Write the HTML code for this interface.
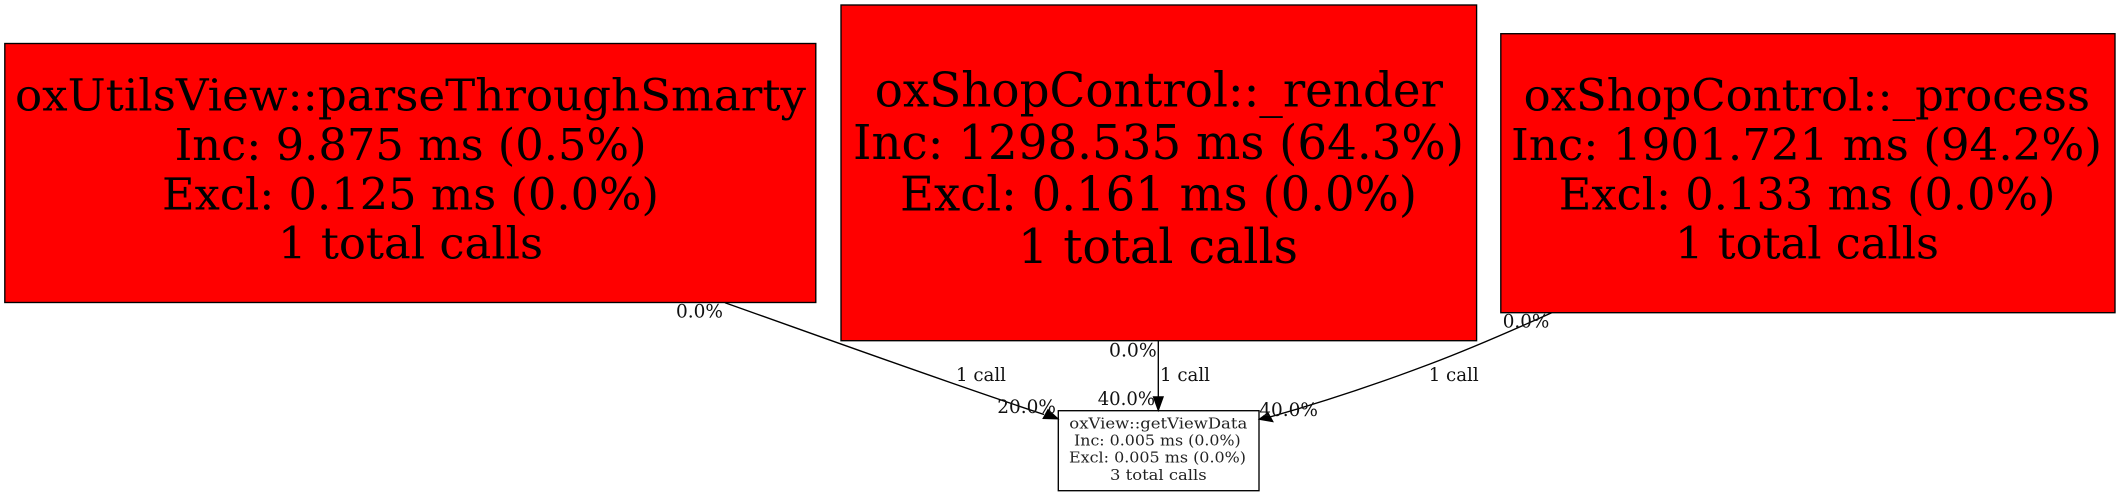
<!DOCTYPE html>
<html>
<head>
<meta charset="utf-8">
<style>
html,body{margin:0;padding:0;background:#fff;width:2120px;height:496px;overflow:hidden}
svg{display:block}
text{font-family:"DejaVu Serif",serif;fill:#000;text-anchor:start}
.b1{font-size:44px}
.b2{font-size:47.5px}
.s{font-size:15px;fill:#222}
.e{font-size:18.5px;fill:#111}
</style>
</head>
<body>
<svg width="2120" height="496" viewBox="0 0 2120 496" xmlns="http://www.w3.org/2000/svg">
<rect x="0" y="0" width="2120" height="496" fill="#fff"/>
<!-- big nodes -->
<rect x="4.8" y="43.5" width="811" height="259" fill="#f00" stroke="#000" stroke-width="1.35"/>
<text class="b1" x="15" y="110.7" textLength="791" lengthAdjust="spacingAndGlyphs">oxUtilsView::parseThroughSmarty</text>
<text class="b1" x="174.6" y="160" textLength="472" lengthAdjust="spacingAndGlyphs">Inc: 9.875 ms (0.5%)</text>
<text class="b1" x="162" y="209.3" textLength="497" lengthAdjust="spacingAndGlyphs">Excl: 0.125 ms (0.0%)</text>
<text class="b1" x="278" y="258.7" textLength="265" lengthAdjust="spacingAndGlyphs">1 total calls</text>

<rect x="841" y="5" width="635.6" height="335.7" fill="#f00" stroke="#000" stroke-width="1.35"/>
<text class="b2" x="874.7" y="106.7" textLength="568.3" lengthAdjust="spacingAndGlyphs">oxShopControl::_render</text>
<text class="b2" x="853" y="159" textLength="611" lengthAdjust="spacingAndGlyphs">Inc: 1298.535 ms (64.3%)</text>
<text class="b2" x="900" y="210.7" textLength="517" lengthAdjust="spacingAndGlyphs">Excl: 0.161 ms (0.0%)</text>
<text class="b2" x="1018" y="263" textLength="280" lengthAdjust="spacingAndGlyphs">1 total calls</text>

<rect x="1500.8" y="33.7" width="614.2" height="279" fill="#f00" stroke="#000" stroke-width="1.35"/>
<text class="b1" x="1523.7" y="110.7" textLength="566.3" lengthAdjust="spacingAndGlyphs">oxShopControl::_process</text>
<text class="b1" x="1511" y="160" textLength="591" lengthAdjust="spacingAndGlyphs">Inc: 1901.721 ms (94.2%)</text>
<text class="b1" x="1558.8" y="209.3" textLength="496.7" lengthAdjust="spacingAndGlyphs">Excl: 0.133 ms (0.0%)</text>
<text class="b1" x="1675" y="258.7" textLength="264" lengthAdjust="spacingAndGlyphs">1 total calls</text>

<!-- small node -->
<rect x="1058.3" y="410.7" width="200.7" height="80" fill="#fff" stroke="#000" stroke-width="1.35"/>
<text class="s" x="1069.3" y="428.7" textLength="178" lengthAdjust="spacingAndGlyphs">oxView::getViewData</text>
<text class="s" x="1074" y="445.3" textLength="166.7" lengthAdjust="spacingAndGlyphs">Inc: 0.005 ms (0.0%)</text>
<text class="s" x="1069" y="462.3" textLength="177" lengthAdjust="spacingAndGlyphs">Excl: 0.005 ms (0.0%)</text>
<text class="s" x="1110" y="480" textLength="96.7" lengthAdjust="spacingAndGlyphs">3 total calls</text>

<!-- edges -->
<g fill="none" stroke="#000" stroke-width="1.35">
<path d="M725,302.7 C830,340 940,380 1044,414.5"/>
<path d="M1158.3,340.7 L1158.3,397"/>
<path d="M1551.7,312.7 C1520,327 1475,347 1430,364 S1330,400 1270,417"/>
</g>
<g fill="#000" stroke="#000" stroke-width="1">
<polygon points="1048,409.5 1043,418.5 1058.3,419"/>
<polygon points="1153.3,396.7 1163.3,396.7 1158.3,410.7"/>
<polygon points="1259,419.3 1268,412.7 1273,421.7"/>
</g>

<!-- edge labels -->
<text class="e" x="676" y="317.7" textLength="47" lengthAdjust="spacingAndGlyphs">0.0%</text>
<text class="e" x="956" y="381" textLength="50" lengthAdjust="spacingAndGlyphs">1 call</text>
<text class="e" x="997.3" y="413" textLength="58.7" lengthAdjust="spacingAndGlyphs">20.0%</text>
<text class="e" x="1109" y="356.7" textLength="47.7" lengthAdjust="spacingAndGlyphs">0.0%</text>
<text class="e" x="1160" y="381" textLength="50" lengthAdjust="spacingAndGlyphs">1 call</text>
<text class="e" x="1097.7" y="405" textLength="57.3" lengthAdjust="spacingAndGlyphs">40.0%</text>
<text class="e" x="1502.7" y="327.7" textLength="46.6" lengthAdjust="spacingAndGlyphs">0.0%</text>
<text class="e" x="1428.7" y="381" textLength="50" lengthAdjust="spacingAndGlyphs">1 call</text>
<text class="e" x="1259.3" y="416" textLength="58.7" lengthAdjust="spacingAndGlyphs">40.0%</text>
</svg>
</body>
</html>
